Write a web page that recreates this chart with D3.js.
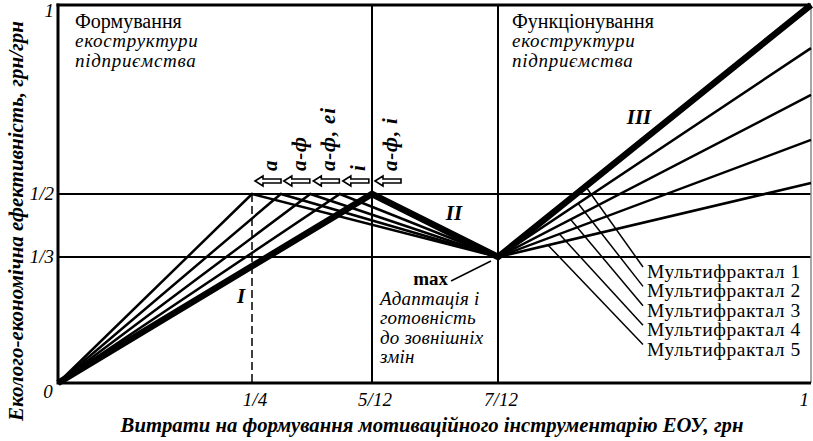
<!DOCTYPE html>
<html>
<head>
<meta charset="utf-8">
<script src="https://cdn.jsdelivr.net/npm/d3@7/dist/d3.min.js"></script>
<style>
  body { margin: 0; }
</style>
</head>
<body>
<svg width="813" height="441"></svg>
<script>
// ---- data ----
var xTickValues = [0, 1/4, 5/12, 7/12, 1];
var xTickLabels = ['0', '1/4', '5/12', '7/12', '1'];
var yTickValues = [1/3, 1/2, 1];
var yTickLabels = ['1/3', '1/2', '1'];
var gridX = [5/12, 7/12];
var gridY = [1/3, 1/2];
var dashedX = 1/4;

// peaks of the formation phase (at y = 1/2) and end values at x = 1
var peakX = [5/12, 1/4, 0.290, 0.331, 0.372];
var peakY = 1/2;
var turnPoint = [7/12, 1/3];
var endY = [1, 0.886, 0.762, 0.643, 0.529];
var seriesNames = ['Мультифрактал 1', 'Мультифрактал 2', 'Мультифрактал 3', 'Мультифрактал 4', 'Мультифрактал 5'];
// where each leader touches its line (x value)
var leaderX = [0.700, 0.690, 0.680, 0.665, 0.650];

var arrowPeaks = [1/4, 0.290, 0.331, 0.372, 5/12];
var arrowLabels = ['а', 'а-ф', 'а-ф, еі', 'і', 'а-ф, і'];

var svg = d3.select('svg');

var x = d3.scaleLinear().domain(xTickValues).range([58, 252, 372, 498, 811]);
var y = d3.scaleLinear().domain([0, 1]).range([383, 5]);

// text helper: style = 'n', 'i', 'b', 'bi'
function txt(sel, style, size) {
  return sel.append('text')
    .style('font-family', "'Liberation Serif'")
    .style('font-style', style.indexOf('i') >= 0 ? 'italic' : 'normal')
    .style('font-weight', style.indexOf('b') >= 0 ? 'bold' : 'normal')
    .attr('font-size', size);
}

function block(px, py, lines, spacing) {
  lines.forEach(function(l, i) {
    var t = txt(svg, l.s, l.s === 'i' ? 19 : 20).attr('x', px).attr('y', py + i * 19.3).text(l.t);
    if (l.s === 'i') t.attr('letter-spacing', spacing);
  });
}

// build polylines
var series = peakX.map(function(px, i) {
  return {
    name: seriesNames[i],
    thick: i === 0,
    pts: [[0, 0], [px, peakY], turnPoint, [1, endY[i]]]
  };
});
var line = d3.line()
  .x(function(d) { return x(d[0]); })
  .y(function(d) { return y(d[1]); });

// grid
svg.selectAll('.gx').data(gridX).enter().append('line')
  .attr('x1', function(d) { return x(d); }).attr('x2', function(d) { return x(d); })
  .attr('y1', y(1)).attr('y2', y(0))
  .attr('stroke', '#000').attr('stroke-width', 2);
svg.selectAll('.gy').data(gridY).enter().append('line')
  .attr('x1', x(0)).attr('x2', x(1))
  .attr('y1', function(d) { return y(d); }).attr('y2', function(d) { return y(d); })
  .attr('stroke', '#000').attr('stroke-width', 2);
svg.append('line')
  .attr('x1', x(dashedX)).attr('x2', x(dashedX))
  .attr('y1', y(peakY)).attr('y2', y(0))
  .attr('stroke', '#000').attr('stroke-width', 1.5)
  .attr('stroke-dasharray', '8,4');

// frame
svg.append('line').attr('x1', x(1)).attr('x2', x(1)).attr('y1', y(1)).attr('y2', y(0))
  .attr('stroke', '#888').attr('stroke-width', 1.5);
svg.append('line').attr('x1', x(0) - 1.5).attr('x2', x(1)).attr('y1', y(1)).attr('y2', y(1))
  .attr('stroke', '#000').attr('stroke-width', 3);

// series lines (thin first, thick on top)
svg.selectAll('.ser').data(series.slice().reverse()).enter().append('path')
  .attr('d', function(d) { return line(d.pts); })
  .attr('fill', 'none')
  .attr('stroke', '#000')
  .attr('stroke-linejoin', 'miter')
  .attr('stroke-width', function(d) { return d.thick ? 6.5 : 2.5; });

// axes
svg.append('line').attr('x1', x(0)).attr('x2', x(0)).attr('y1', y(1) - 1.5).attr('y2', y(0) + 1.5)
  .attr('stroke', '#000').attr('stroke-width', 3);
svg.append('line').attr('x1', x(0)).attr('x2', x(1)).attr('y1', y(0)).attr('y2', y(0))
  .attr('stroke', '#000').attr('stroke-width', 3);

// phase captions
block(75, 28, [{t: 'Формування', s: 'n'}, {t: 'екоструктури', s: 'i'}, {t: 'підприємства', s: 'i'}], 0.7);
block(512, 28, [{t: 'Функціонування', s: 'n'}, {t: 'екоструктури', s: 'i'}, {t: 'підприємства', s: 'i'}], 0.7);
block(380, 305, [{t: 'Адаптація і', s: 'i'}, {t: 'готовність', s: 'i'}, {t: 'до зовнішніх', s: 'i'}, {t: 'змін', s: 'i'}], 0.2);

// multifractal labels and leaders
var labelX = 647;
var labelY0 = 278;
var labelStep = 19.4;
series.forEach(function(s, i) {
  var lx = leaderX[i];
  var ly = turnPoint[1] + (endY[i] - turnPoint[1]) * (lx - turnPoint[0]) / (1 - turnPoint[0]);
  svg.append('line')
    .attr('x1', x(lx)).attr('y1', y(ly))
    .attr('x2', labelX - 4).attr('y2', labelY0 + i * labelStep - 11)
    .attr('stroke', '#000').attr('stroke-width', 1.5);
  txt(svg, 'n', 19.5)
    .attr('x', labelX).attr('y', labelY0 + i * labelStep)
    .attr('letter-spacing', 0.6)
    .text(s.name);
});

// max label
txt(svg, 'b', 19)
  .attr('x', 448).attr('y', 285).attr('text-anchor', 'end').text('max');
svg.append('line')
  .attr('x1', 451).attr('y1', 281)
  .attr('x2', x(turnPoint[0]) - 7).attr('y2', y(turnPoint[1]) + 4)
  .attr('stroke', '#000').attr('stroke-width', 1.5);

// tick labels
xTickValues.forEach(function(d, i) {
  txt(svg, 'i', 19)
    .attr('x', i === 0 ? x(d) - 10 : (i === 4 ? x(d) - 2 : x(d) + 3))
    .attr('y', i === 0 ? 398 : 406)
    .attr('text-anchor', i === 4 ? 'end' : 'middle')
    .text(xTickLabels[i]);
});
yTickValues.forEach(function(d, i) {
  txt(svg, 'i', 19)
    .attr('x', x(0) - 4)
    .attr('y', y(d) + (d === 1 ? 12 : 6))
    .attr('text-anchor', 'end')
    .text(yTickLabels[i]);
});

// axis titles
txt(svg, 'bi', 20.7)
  .attr('x', 432).attr('y', 432)
  .attr('text-anchor', 'middle')
  .text('Витрати на формування мотиваційного інструментарію ЕОУ, грн');
txt(svg, 'bi', 21)
  .attr('transform', 'translate(23,221) rotate(-90)')
  .attr('text-anchor', 'middle')
  .text('Еколого-економічна ефективність, грн/грн');

// roman numerals
txt(svg, 'bi', 21).attr('x', 241).attr('y', 303).attr('text-anchor', 'middle').text('I');
txt(svg, 'bi', 21).attr('x', 454).attr('y', 220).attr('text-anchor', 'middle').text('II');
txt(svg, 'bi', 21).attr('x', 639).attr('y', 124).attr('text-anchor', 'middle').text('III');

// hollow arrows pointing to the peaks
var arrowY = 181;
var arrows = svg.selectAll('.arrow').data(arrowPeaks).enter().append('g')
  .attr('transform', function(d) { return 'translate(' + (x(d) + 3) + ',' + arrowY + ')'; });
arrows.append('path')
  .attr('d', 'M0,0 L8,-5 L8,-2 L26,-2 L26,2 L8,2 L8,5 Z')
  .attr('fill', '#fff').attr('stroke', '#000').attr('stroke-width', 1.6)
  .attr('stroke-linejoin', 'miter');
arrows.each(function(d, i) {
  txt(d3.select(this), 'bi', 21)
    .attr('transform', 'translate(22,-10) rotate(-90)')
    .attr('letter-spacing', 0.8)
    .text(arrowLabels[i]);
});
</script>
</body>
</html>
